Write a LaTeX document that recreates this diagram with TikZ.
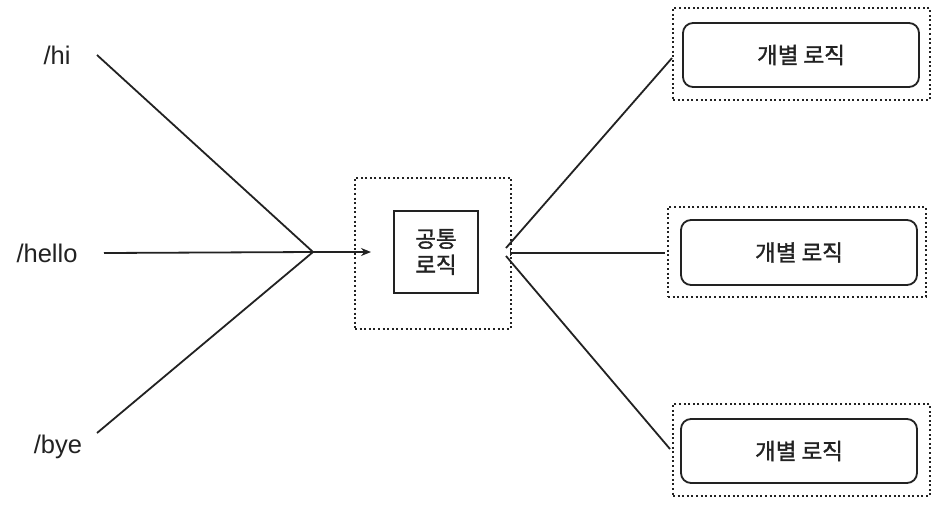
\documentclass[tikz,border=0pt]{standalone}
\usepackage{fontspec}
\setmainfont{Liberation Sans}
\newfontfamily\kr[FakeBold=1.3]{Noto Sans CJK KR}
\usetikzlibrary{arrows.meta}
\definecolor{ink}{HTML}{222222}
\begin{document}
\begin{tikzpicture}[x=1pt,y=-1pt,
  lbl/.style={font=\fontsize{25.5}{28}\selectfont, text=ink, inner sep=0pt},
  conn/.style={draw=ink, line width=1.8pt},
  dotbox/.style={draw=ink, line width=2pt, dash pattern=on 2pt off 2.6pt},
  corebox/.style={draw=ink, line width=1.8pt, fill=white},
  indbox/.style={draw=ink, line width=1.8pt, rounded corners=10pt, fill=white},
  krtext/.style={font=\kr\fontsize{22.5}{30}\selectfont, text=ink, align=center}
]
\useasboundingbox[fill=white] (0,0) rectangle (940,507);
% input labels
\node[lbl] (hi) at (57,55) {/hi};
\node[lbl] (hello) at (47,253) {/hello};
\node[lbl] (bye) at (58,447) {/bye};
\coordinate (hiS) at (97,55);
\coordinate (helloS) at (104,253);
\coordinate (byeS) at (97,433);
\coordinate (J) at (313,252);
% common logic
\node[dotbox, minimum width=156pt, minimum height=151pt] (outer) at (433,253) {};
\node[corebox, minimum width=84pt, minimum height=82pt, krtext] (core) at (436,252) {공통\\[-4pt]로직};
\coordinate (tip) at (371,252);
\draw[conn] (hiS) -- (J);
\draw[conn] (helloS) -- (J);
\draw[conn] (byeS) -- (J);
\draw[conn, -{Stealth[length=10pt,width=8pt]}] (J) -- (tip);
% individual logic
\node[dotbox, minimum width=257pt, minimum height=92pt] (o1) at (801.5,54) {};
\node[indbox, minimum width=236pt, minimum height=64pt, krtext] (b1) at (801,55) {개별 로직};
\node[dotbox, minimum width=258pt, minimum height=90pt] (o2) at (797,252) {};
\node[indbox, minimum width=236pt, minimum height=65pt, krtext] (b2) at (799,252.5) {개별 로직};
\node[dotbox, minimum width=257pt, minimum height=92pt] (o3) at (801.5,450) {};
\node[indbox, minimum width=236pt, minimum height=64pt, krtext] (b3) at (799,451) {개별 로직};
% fan-out
\coordinate (F1) at (506,248);
\coordinate (F2) at (510,253);
\coordinate (F3) at (506,256);
\coordinate (E1) at (672,58);
\coordinate (E2) at (665,253);
\coordinate (E3) at (670,449);
\draw[conn] (F1) -- (E1);
\draw[conn, {Bar[width=6pt,line width=1pt]}-] (F2) -- (E2);
\draw[conn] (F3) -- (E3);
\end{tikzpicture}
\end{document}
